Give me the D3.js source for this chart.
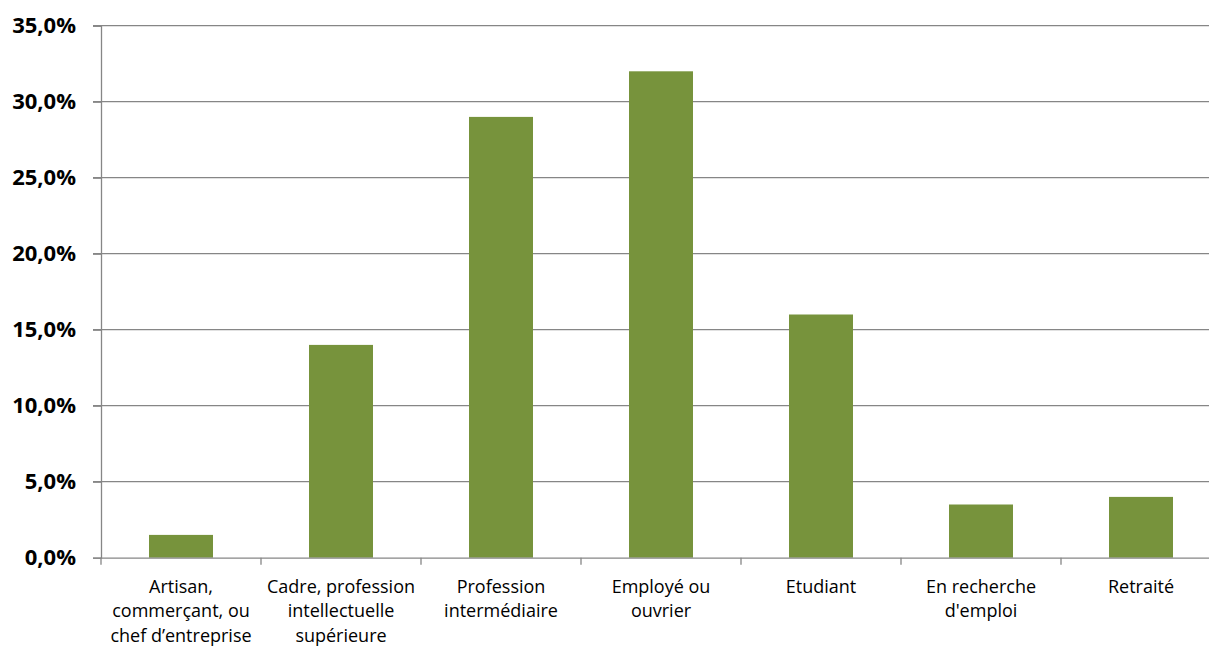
<!DOCTYPE html>
<html>
<head>
<meta charset="utf-8">
<script src="https://cdn.jsdelivr.net/npm/d3@7"></script>
<style>
  html, body { margin: 0; padding: 0; background: #fff; }
  svg { display: block; }
</style>
</head>
<body>
<svg id="chart" width="1209" height="646"></svg>
<script>
// Categories (each entry is split onto display lines)
const categories = [
  ["Artisan,", "commerçant, ou", "chef d\u2019entreprise"],
  ["Cadre, profession", "intellectuelle", "supérieure"],
  ["Profession", "intermédiaire"],
  ["Employé ou", "ouvrier"],
  ["Etudiant"],
  ["En recherche", "d'emploi"],
  ["Retraité"]
];
// Share of respondents per category (%)
const values = [1.5, 14, 29, 32, 16, 3.5, 4];
// Y axis ticks (%)
const yTicks = [0, 5, 10, 15, 20, 25, 30, 35];

const svg = d3.select("#chart");
const margin = { left: 101, top: 25.7, bottom: 646 - 557.7 };
const plotW = 7 * 160;
const height = 646;

const keys = categories.map(c => c.join(" "));
const x = d3.scaleBand().domain(keys).range([margin.left, margin.left + plotW]).padding(0);
const y = d3.scaleLinear().domain([0, 35]).range([height - margin.bottom, margin.top]);

const gridColor = "#868686";
const fontFamily = "'Open Sans', 'DejaVu Sans', sans-serif";
const fmt = v => d3.format(".1f")(v).replace(".", ",") + "%";

// horizontal gridlines
svg.append("g")
  .selectAll("line")
  .data(yTicks.filter(t => t > 0))
  .join("line")
  .attr("x1", margin.left - 8)
  .attr("x2", margin.left + plotW)
  .attr("y1", d => y(d))
  .attr("y2", d => y(d))
  .attr("stroke", gridColor)
  .attr("stroke-width", 1.3);

// bars
svg.append("g")
  .selectAll("rect")
  .data(values)
  .join("rect")
  .attr("x", (d, i) => x(keys[i]) + x.bandwidth() * 0.3)
  .attr("width", x.bandwidth() * 0.4)
  .attr("y", d => y(d))
  .attr("height", d => y(0) - y(d))
  .attr("fill", "#77933C");

// y axis
const yAxis = svg.append("g")
  .attr("transform", `translate(${margin.left},0)`)
  .call(d3.axisLeft(y).tickValues(yTicks).tickFormat(fmt).tickSize(8).tickPadding(17));
yAxis.select(".domain").attr("stroke", gridColor).attr("stroke-width", 1.3);
yAxis.selectAll(".tick line").attr("stroke", gridColor).attr("stroke-width", 1.3);
yAxis.selectAll(".tick text")
  .attr("fill", "#000")
  .style("font-family", fontFamily)
  .style("font-size", "22px")
  .style("font-weight", "bold");

// x axis baseline
const xAxis = svg.append("g")
  .attr("transform", `translate(0,${y(0)})`)
  .call(d3.axisBottom(x).tickSize(0).tickFormat(""));
xAxis.select(".domain").attr("stroke", gridColor).attr("stroke-width", 1.3);
xAxis.selectAll(".tick").remove();

// category separators
svg.append("g")
  .selectAll("line")
  .data(d3.range(keys.length + 1))
  .join("line")
  .attr("x1", i => margin.left + i * x.step())
  .attr("x2", i => margin.left + i * x.step())
  .attr("y1", y(0))
  .attr("y2", y(0) + 7)
  .attr("stroke", gridColor)
  .attr("stroke-width", 1.3);

// category labels
const labels = svg.append("g")
  .selectAll("text")
  .data(categories)
  .join("text")
  .attr("x", (d, i) => x(keys[i]) + x.bandwidth() / 2)
  .attr("y", y(0) + 35)
  .attr("text-anchor", "middle")
  .attr("fill", "#000")
  .style("font-family", fontFamily)
  .style("font-size", "18px");
labels.selectAll("tspan")
  .data((d, i) => d.map(line => ({ line, i })))
  .join("tspan")
  .attr("x", d => x(keys[d.i]) + x.bandwidth() / 2)
  .attr("dy", (d, j) => j === 0 ? 0 : 24.5)
  .text(d => d.line);
</script>
</body>
</html>
